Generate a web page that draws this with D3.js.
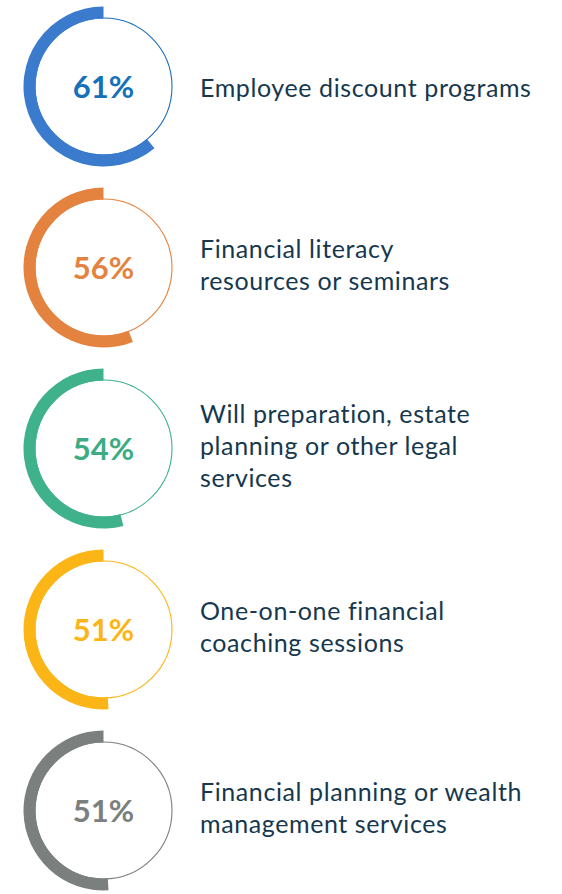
<!DOCTYPE html>
<html><head><meta charset="utf-8">
<script src="https://cdn.jsdelivr.net/npm/d3@7"></script>
<style>html,body{margin:0;padding:0;background:#fff;}svg{display:block;}</style>
</head><body>
<svg id="c" width="562" height="894"></svg>
<script>
const categories = [
  ["Employee discount programs"],
  ["Financial literacy", "resources or seminars"],
  ["Will preparation, estate", "planning or other legal", "services"],
  ["One-on-one financial", "coaching sessions"],
  ["Financial planning or wealth", "management services"]
];
const values = [61, 56, 54, 51, 51];
const arcColors = ["#3b7bcd", "#e4823f", "#3fb28b", "#fcb516", "#7b807e"];
const lineColors = ["#1a6fb8", "#e4823f", "#3fb28b", "#fcb516", "#7b807e"];
const textColors = ["#1470b8", "#e4823f", "#3dab83", "#fcb516", "#7b807e"];

const svg = d3.select("#c");
const cx = 103.5, cy0 = 86.5, step = 181;
const y = d3.scaleLinear().domain([0, 1]).range([cy0, cy0 + step]);
const ang = d3.scaleLinear().domain([0, 100]).range([0, -2 * Math.PI]);
const arc = d3.arc().innerRadius(68).outerRadius(80);

values.forEach((v, i) => {
  const g = svg.append("g").attr("transform", `translate(${cx},${y(i)})`);
  g.append("circle").attr("r", 68.5).attr("fill", "none")
    .attr("stroke", lineColors[i]).attr("stroke-width", 1.1);
  g.append("path").attr("d", arc({startAngle: 0, endAngle: ang(v)}))
    .attr("fill", arcColors[i]);
  g.append("text").attr("x", 0).attr("y", 11)
    .attr("text-anchor", "middle")
    .attr("font-family", "Lato, 'Open Sans', sans-serif")
    .attr("font-weight", 700)
    .attr("font-size", 31)
    .attr("fill", textColors[i])
    .text(v + "%");
  const lines = categories[i];
  const lh = 32;
  const off = lines.length > 1 ? 5 : 9;
  const t = svg.append("text")
    .attr("font-family", "Lato, 'Open Sans', sans-serif")
    .attr("font-size", 25)
    .attr("letter-spacing", 0.6)
    .attr("fill", "#16384f");
  lines.forEach((ln, j) => {
    t.append("tspan").attr("x", 200)
      .attr("y", y(i) + 1 + (j - (lines.length - 1) / 2) * lh + off)
      .text(ln);
  });
});
</script>
</body></html>
